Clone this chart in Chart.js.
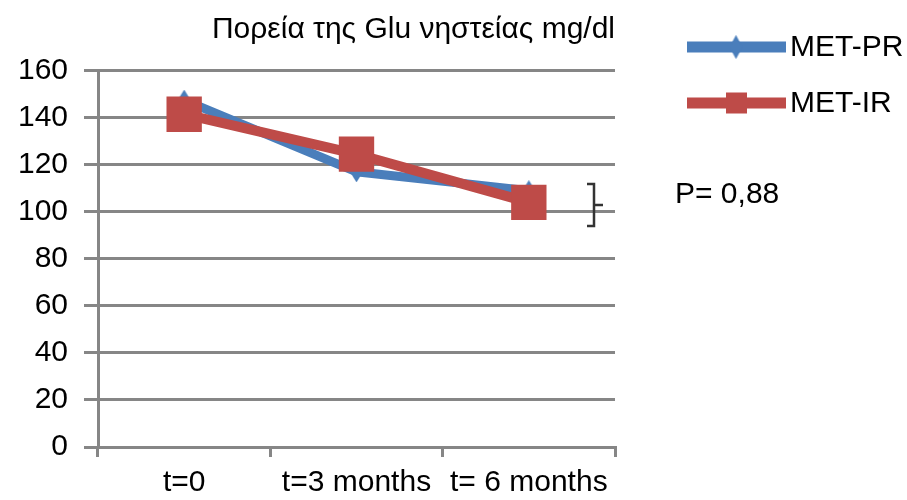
<!DOCTYPE html>
<html>
<head>
<meta charset="utf-8">
<script src="https://cdn.jsdelivr.net/npm/chart.js@4.4.1/dist/chart.umd.min.js"></script>
<style>
    html, body { margin: 0; padding: 0; background: #fff; }
    #wrap { width: 907px; height: 500px; }
</style>
</head>
<body>
<div id="wrap"><canvas id="gluChart"></canvas></div>
<script>
// Data
const categories = ['t=0', 't=3 months', 't= 6 months'];
const metPR = [147.5, 117, 109];
const metIR = [141.5, 124.5, 104];
const yTicks = [0, 20, 40, 60, 80, 100, 120, 140, 160];
const chartTitle = 'Πορεία της Glu νηστείας mg/dl';
const pValue = 'P= 0,88';

const FONT = "'Liberation Sans', Arial, sans-serif";
const BLUE = '#4a7ebb';
const RED = '#be4b48';
const GRID = '#868686';

// Tall diamond marker for MET-PR
function makeDiamond(w, h, color) {
    const c = document.createElement('canvas');
    c.width = w;
    c.height = h;
    const g = c.getContext('2d');
    g.fillStyle = color;
    g.beginPath();
    g.moveTo(w / 2, 0);
    g.lineTo(w, h / 2);
    g.lineTo(w / 2, h);
    g.lineTo(0, h / 2);
    g.closePath();
    g.fill();
    return c;
}
const diamond = makeDiamond(13, 21, BLUE);

// Legend on the right, p-value and brace
const sideNotes = {
    id: 'sideNotes',
    afterDraw(chart) {
        const ctx = chart.ctx;
        ctx.save();
        ctx.font = '30px ' + FONT;
        ctx.textBaseline = 'middle';
        chart.data.datasets.forEach((ds, i) => {
            const y = 47 + i * 56;
            ctx.strokeStyle = ds.borderColor;
            ctx.lineWidth = 11;
            ctx.beginPath();
            ctx.moveTo(687, y);
            ctx.lineTo(786, y);
            ctx.stroke();
            if (ds.pointStyle === 'rect') {
                ctx.fillStyle = ds.borderColor;
                ctx.fillRect(726, y - 10.5, 21, 21);
            } else {
                ctx.drawImage(ds.pointStyle, 736 - 6.5, y - 12, 13, 24);
            }
            ctx.fillStyle = '#000';
            ctx.fillText(ds.label, 790, y + 1);
        });

        ctx.fillText(pValue, 675, 195);

        // brace next to the end points
        ctx.strokeStyle = '#333';
        ctx.lineWidth = 2.5;
        ctx.beginPath();
        ctx.moveTo(587, 184);
        ctx.lineTo(594, 184);
        ctx.lineTo(594, 226);
        ctx.lineTo(587, 226);
        ctx.moveTo(594, 205);
        ctx.lineTo(603, 205);
        ctx.stroke();
        ctx.restore();
    }
};

const ctx = document.getElementById('gluChart').getContext('2d');
new Chart(ctx, {
    type: 'line',
    data: {
        labels: categories,
        datasets: [{
            label: 'MET-PR',
            data: metPR,
            borderColor: BLUE,
            backgroundColor: BLUE,
            borderWidth: 9,
            pointStyle: diamond,
            pointRadius: 8,
            pointBorderWidth: 0,
            tension: 0,
            order: 1
        }, {
            label: 'MET-IR',
            data: metIR,
            borderColor: RED,
            backgroundColor: RED,
            borderWidth: 10,
            pointStyle: 'rect',
            pointRadius: 25,
            pointBorderWidth: 0,
            tension: 0,
            order: 0
        }]
    },
    options: {
        responsive: true,
        maintainAspectRatio: false,
        animation: false,
        layout: {
            padding: { left: 0, right: 292, top: 0, bottom: 0 }
        },
        plugins: {
            legend: { display: false },
            tooltip: { enabled: false },
            title: {
                display: true,
                text: chartTitle,
                align: 'end',
                fullSize: false,
                color: '#000',
                font: { family: FONT, size: 30, weight: 'normal' },
                padding: { top: 11.5, bottom: 23.2 }
            }
        },
        scales: {
            x: {
                offset: true,
                afterFit: s => { s.height = 53; },
                grid: {
                    display: true,
                    offset: true,
                    drawOnChartArea: false,
                    drawTicks: true,
                    tickLength: 10,
                    color: GRID,
                    lineWidth: 3
                },
                border: { display: true, color: GRID, width: 3 },
                ticks: {
                    color: '#000',
                    padding: 8,
                    maxRotation: 0,
                    autoSkip: false,
                    font: { family: FONT, size: 30 }
                }
            },
            y: {
                min: 0,
                max: 160,
                afterFit: s => { s.width = 98; },
                afterBuildTicks: s => { s.ticks = yTicks.map(v => ({ value: v })); },
                grid: {
                    color: GRID,
                    lineWidth: 3,
                    tickLength: 14
                },
                border: { display: true, color: GRID, width: 3 },
                ticks: {
                    color: '#000',
                    padding: 16,
                    font: { family: FONT, size: 30 }
                }
            }
        }
    },
    plugins: [sideNotes]
});
</script>
</body>
</html>
